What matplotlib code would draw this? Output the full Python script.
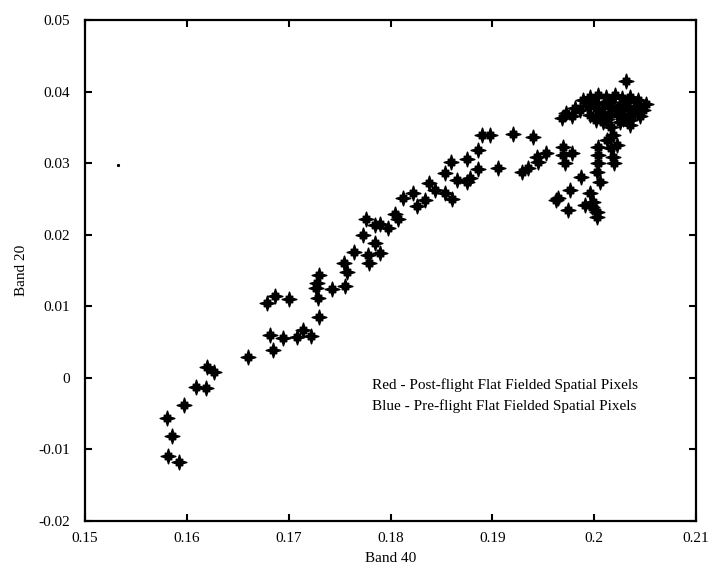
import numpy as np
import matplotlib
matplotlib.use("Agg")
import matplotlib.pyplot as plt
from matplotlib.path import Path

band40 = [0.1581, 0.1585, 0.1582, 0.1592, 0.1597, 0.1609, 0.1619, 0.1620, 0.1627,
          0.1660, 0.1685, 0.1682, 0.1694, 0.1708, 0.1714, 0.1722, 0.1730, 0.1679,
          0.1687, 0.1700, 0.1729, 0.1728, 0.1730, 0.1727, 0.1743, 0.1755, 0.1757,
          0.1754, 0.1764, 0.1778, 0.1779, 0.1790, 0.1785, 0.1773, 0.1776, 0.1785,
          0.1790, 0.1798, 0.1804, 0.1807, 0.1812, 0.1822, 0.1826, 0.1834, 0.1838,
          0.1844, 0.1854, 0.1860, 0.1854, 0.1859, 0.1865, 0.1875, 0.1886, 0.1886,
          0.1878, 0.1875, 0.1890, 0.1898, 0.1906, 0.1920, 0.1940, 0.1929, 0.1935,
          0.1944, 0.1953, 0.1945, 0.1963,
          0.1968, 0.1981, 0.2031, 0.1969, 0.1978, 0.1969, 0.1971, 0.1976, 0.1964,
          0.1974, 0.1987, 0.1996, 0.1991, 0.1998, 0.2003, 0.2003, 0.1999, 0.2006,
          0.2003, 0.2004, 0.2004, 0.2004, 0.2018, 0.2019, 0.2018, 0.2013, 0.2022,
          0.2017, 0.2009, 0.2017,
          0.1989, 0.1996, 0.2004, 0.2012, 0.2020, 0.2027, 0.2035, 0.2043, 0.2051,
          0.1986, 0.1994, 0.2002, 0.2010, 0.2017, 0.2025, 0.2033, 0.2041, 0.2048,
          0.1996, 0.2006, 0.2014, 0.2022, 0.2029, 0.2037, 0.2045, 0.2002, 0.2025,
          0.2035, 0.1972, 0.1978, 0.2035,
          0.2000, 0.2008, 0.2016, 0.2024, 0.2032, 0.2040, 0.2013, 0.2028]
band20 = [-0.0056, -0.0081, -0.0109, -0.0117, -0.0038, -0.0013, -0.0014, 0.0015, 0.0008,
          0.0029, 0.0039, 0.0060, 0.0056, 0.0057, 0.0067, 0.0059, 0.0085, 0.0105,
          0.0115, 0.0110, 0.0112, 0.0133, 0.0144, 0.0125, 0.0124, 0.0129, 0.0148,
          0.0161, 0.0176, 0.0172, 0.0161, 0.0175, 0.0189, 0.0200, 0.0222, 0.0214,
          0.0215, 0.0210, 0.0229, 0.0222, 0.0251, 0.0258, 0.0240, 0.0249, 0.0272,
          0.0263, 0.0258, 0.0250, 0.0286, 0.0302, 0.0277, 0.0306, 0.0319, 0.0292,
          0.0279, 0.0274, 0.0339, 0.0339, 0.0293, 0.0341, 0.0337, 0.0288, 0.0293,
          0.0309, 0.0314, 0.0302, 0.0249,
          0.0363, 0.0377, 0.0415, 0.0323, 0.0314, 0.0312, 0.0300, 0.0263, 0.0251,
          0.0235, 0.0281, 0.0258, 0.0242, 0.0239, 0.0225, 0.0232, 0.0246, 0.0274,
          0.0288, 0.0300, 0.0312, 0.0323, 0.0309, 0.0300, 0.0339, 0.0332, 0.0326,
          0.0321, 0.0358, 0.0351,
          0.0388, 0.0393, 0.0395, 0.0393, 0.0395, 0.0391, 0.0393, 0.0388, 0.0383,
          0.0374, 0.0380, 0.0377, 0.0383, 0.0377, 0.0381, 0.0377, 0.0380, 0.0374,
          0.0367, 0.0369, 0.0366, 0.0369, 0.0366, 0.0369, 0.0366, 0.0360, 0.0358,
          0.0360, 0.0370, 0.0366, 0.0353,
          0.0385, 0.0372, 0.0386, 0.0373, 0.0385, 0.0372, 0.0362, 0.0362]

stray_x = [0.1532]
stray_y = [0.0297]

xticks = [0.15, 0.16, 0.17, 0.18, 0.19, 0.2, 0.21]
xticklabels = ["0.15", "0.16", "0.17", "0.18", "0.19", "0.2", "0.21"]
yticks = [-0.02, -0.01, 0, 0.01, 0.02, 0.03, 0.04, 0.05]
yticklabels = ["-0.02", "-0.01", "0", "0.01", "0.02", "0.03", "0.04", "0.05"]
legend_lines = ["Red - Post-flight Flat Fielded Spatial Pixels",
                "Blue - Pre-flight Flat Fielded Spatial Pixels"]

plt.rcParams['font.family'] = ['Liberation Serif', 'DejaVu Serif']

# 8-pointed star marker (long axial arms, short diagonal arms, fat centre)
verts = []
for k in range(16):
    ang = np.pi / 2 + k * np.pi / 8
    if k % 4 == 0:
        r = 1.0
    elif k % 2 == 0:
        r = 0.62
    else:
        r = 0.45
    verts.append((r * np.cos(ang), r * np.sin(ang)))
verts.append(verts[0])
codes = [Path.MOVETO] + [Path.LINETO] * 15 + [Path.CLOSEPOLY]
star = Path(verts, codes)

fig = plt.figure(figsize=(7.10, 5.69), dpi=100)
ax = fig.add_axes([0.1197, 0.0844, 0.8606, 0.8805])

ax.plot(band40, band20, linestyle='none', marker=star, markersize=10.5,
        color='black', markeredgewidth=1.1)
ax.plot(stray_x, stray_y, linestyle='none', marker='s', markersize=1.2, color='black')

ax.set_xlim(0.15, 0.21)
ax.set_ylim(-0.02, 0.05)
ax.set_xticks(xticks)
ax.set_xticklabels(xticklabels)
ax.set_yticks(yticks)
ax.set_yticklabels(yticklabels)
ax.tick_params(direction='in', length=5, width=1.5, labelsize=11,
               top=True, right=True)
ax.tick_params(axis='y', pad=11)
ax.tick_params(axis='x', pad=8)
for s in ax.spines.values():
    s.set_linewidth(1.6)

ax.set_xlabel("Band 40", fontsize=11, labelpad=5)
ax.set_ylabel("Band 20", fontsize=11, labelpad=7)

ax.text(0.1782, -0.0010, legend_lines[0], fontsize=11, va='center', ha='left')
ax.text(0.1782, -0.0039, legend_lines[1], fontsize=11, va='center', ha='left')

fig.savefig("out.png", dpi=100)
